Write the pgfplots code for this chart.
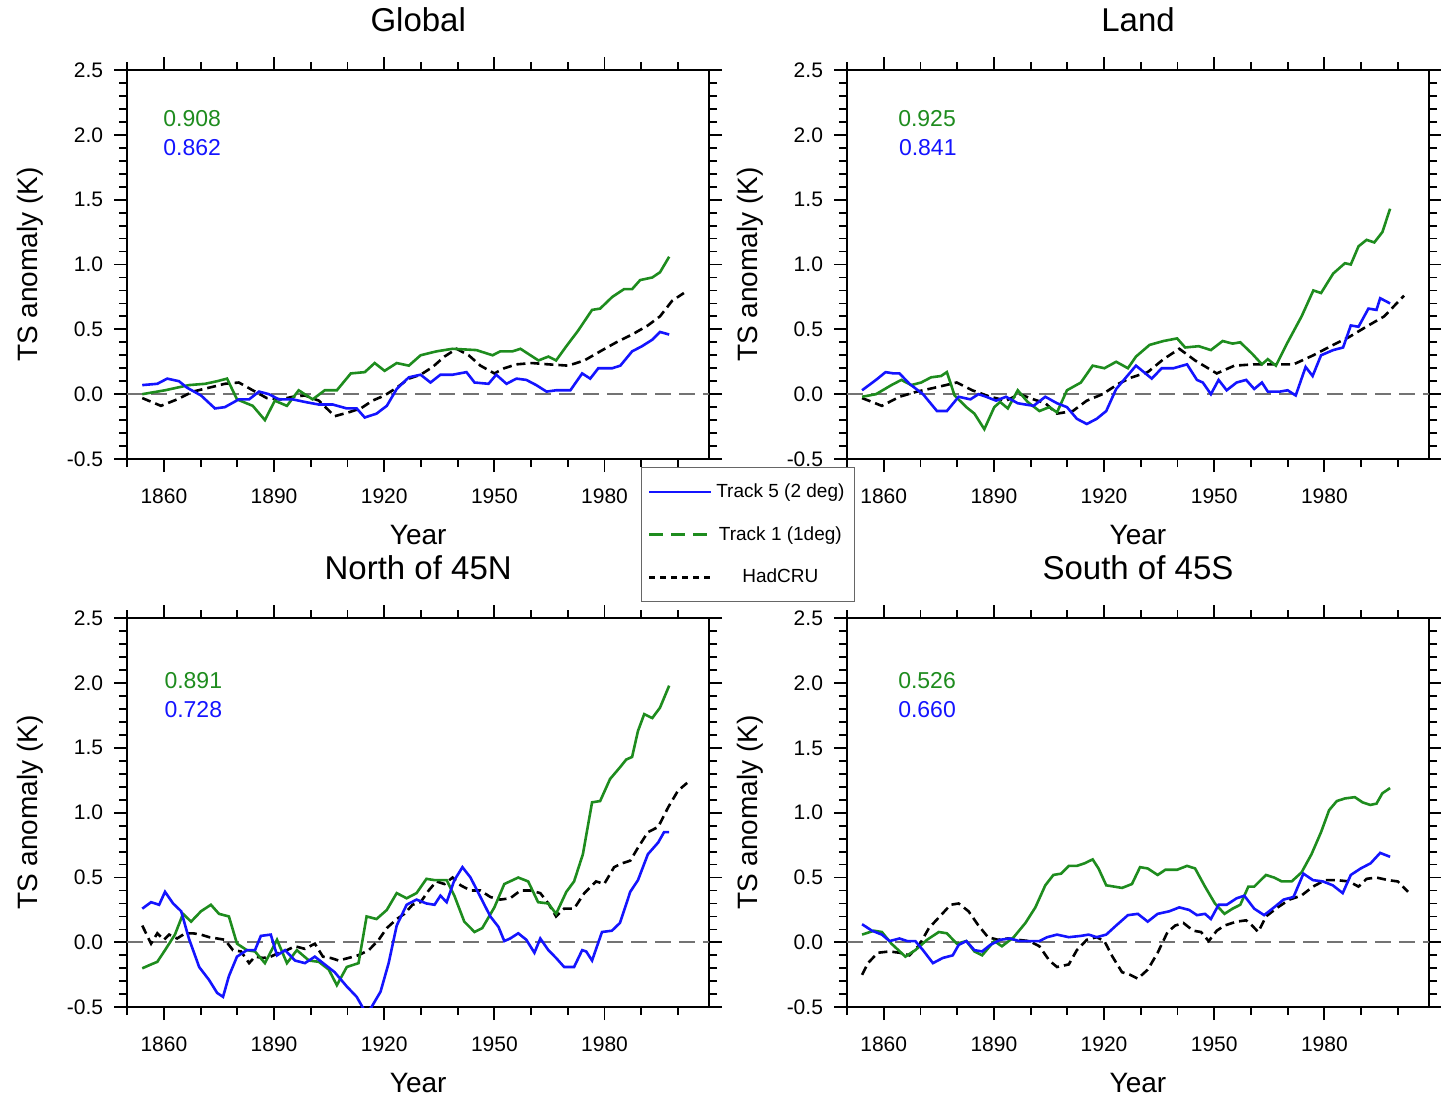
\documentclass[border=0pt]{standalone}
\usepackage{fontspec}
\setmainfont{Liberation Sans}
\usepackage{pgfplots}
\pgfplotsset{compat=1.18}
\definecolor{tgreen}{RGB}{30,140,30}
\definecolor{tblue}{RGB}{20,20,255}

\tikzset{corr/.style={font=\fontsize{11.5}{13}\selectfont},
         ptitle/.style={font=\fontsize{16.5}{19}\selectfont, anchor=center}}
\pgfplotsset{
  panel/.style={
    scale only axis, width=291pt, height=194.5pt,
    xmin=1850, xmax=2008.5, ymin=-0.5, ymax=2.5,
    xtick={1860,1890,...,1980}, minor xtick={1850,1860,...,2000},
    ytick={-0.5,0,...,2.5}, minor ytick={-0.4,-0.3,...,2.45},
    tick align=outside, xticklabel pos=lower, yticklabel pos=left,
    major tick length=6.5pt, minor tick length=4pt,
    every tick/.style={black, line width=0.9pt},
    axis line style={line width=1.1pt},
    /pgf/number format/assume math mode=true,
    xticklabel style={yshift=-5pt, /pgf/number format/1000 sep={}},
    yticklabel style={xshift=-2pt, /pgf/number format/.cd, fixed, fixed zerofill, precision=1},
    every tick label/.append style={font=\fontsize{10.5}{12}\selectfont},
    label style={font=\fontsize{14}{16}\selectfont},
    xlabel={Year}, ylabel={TS anomaly (K)},
    xlabel style={at={(axis description cs:0.5,-0.1954)}, anchor=center},
    ylabel style={at={(axis description cs:-0.1667,0.5)}, anchor=center},
  },
  track5/.style={tblue, line width=1.3pt, forget plot},
  track1/.style={tgreen, line width=1.3pt, forget plot},
  hadcru/.style={black, line width=1.3pt, dash pattern=on 4.5pt off 2.5pt, forget plot},
  zeroline/.style={black!55, line width=0.9pt, dash pattern=on 8pt off 4pt, forget plot},
}

\begin{document}
\begin{tikzpicture}
\path[use as bounding box] (0,0) rectangle (720.5pt,-549pt);

% panel titles
\node[ptitle] at (209.1pt,-10pt) {Global};
\node[ptitle] at (569pt,-10pt) {Land};
\node[ptitle] at (209.1pt,-284pt) {North of 45N};
\node[ptitle] at (569pt,-284pt) {South of 45S};

% ---------------- Global ----------------
\begin{axis}[panel, at={(63.6pt,-229.5pt)}, anchor=south west]
\addplot[zeroline] coordinates {(1850,0) (2008.5,0)};
\addplot[hadcru] coordinates {
(1854.1,-0.03) (1859.2,-0.09) (1863.6,-0.04) (1867.9,0.02) (1872.3,0.05) (1876.6,0.08)
(1880.4,0.09) (1884.2,0.03) (1888.0,-0.03) (1891.8,-0.04) (1895.1,-0.02) (1898.4,-0.01)
(1902.2,-0.05) (1906.5,-0.17) (1910.3,-0.14) (1913.6,-0.11) (1916.8,-0.05) (1920.1,-0.01)
(1923.4,0.05) (1926.7,0.12) (1929.9,0.15) (1933.2,0.21) (1936.4,0.29) (1939.7,0.35)
(1943.0,0.30) (1946.2,0.22) (1950.0,0.16) (1952.7,0.20) (1956.0,0.23) (1960.3,0.24)
(1964.7,0.23) (1970.1,0.22) (1974.5,0.26) (1978.8,0.33) (1983.2,0.40) (1987.5,0.46)
(1991.8,0.53) (1995.1,0.60) (1998.4,0.72) (2001.6,0.78)};
\addplot[track1] coordinates {
(1854.1,0.00) (1860.3,0.03) (1866.8,0.07) (1871.2,0.08) (1874.5,0.10) (1877.2,0.12)
(1879.9,-0.04) (1884.2,-0.09) (1887.5,-0.20) (1890.2,-0.05) (1893.5,-0.09) (1896.7,0.03)
(1900.5,-0.04) (1903.8,0.03) (1907.1,0.03) (1910.9,0.16) (1914.7,0.17) (1917.4,0.24)
(1920.1,0.18) (1923.4,0.24) (1926.7,0.22) (1929.9,0.30) (1934.2,0.33) (1938.6,0.35)
(1945.1,0.34) (1949.5,0.30) (1951.6,0.33) (1954.9,0.33) (1957.1,0.35) (1962.0,0.26)
(1964.7,0.29) (1966.8,0.26) (1969.6,0.37) (1972.8,0.49) (1976.6,0.65) (1978.8,0.66)
(1982.1,0.75) (1985.3,0.81) (1987.5,0.81) (1989.7,0.88) (1993.0,0.90) (1995.1,0.94)
(1997.6,1.06)};
\addplot[track5] coordinates {
(1854.1,0.07) (1858.2,0.08) (1860.9,0.12) (1864.1,0.10) (1866.3,0.05) (1870.1,-0.01)
(1873.9,-0.11) (1876.6,-0.10) (1880.4,-0.04) (1883.2,-0.04) (1885.9,0.02) (1888.6,0.00)
(1891.3,-0.04) (1895.1,-0.04) (1898.4,-0.06) (1902.2,-0.08) (1906.0,-0.08) (1909.8,-0.11)
(1912.5,-0.11) (1914.7,-0.18) (1917.9,-0.15) (1920.7,-0.09) (1923.4,0.04) (1926.7,0.13)
(1929.9,0.15) (1932.6,0.09) (1935.3,0.15) (1938.6,0.15) (1942.4,0.17) (1944.6,0.09)
(1948.4,0.08) (1950.5,0.15) (1953.3,0.08) (1956.0,0.12) (1958.7,0.11) (1961.4,0.07)
(1964.2,0.02) (1966.8,0.03) (1970.7,0.03) (1973.9,0.16) (1976.1,0.12) (1978.3,0.20)
(1982.1,0.20) (1984.3,0.22) (1987.5,0.33) (1990.2,0.37) (1993.0,0.42) (1995.1,0.48)
(1997.6,0.46)};
\node[corr, text=tgreen] at (axis cs:1867.7,2.128) {0.908};
\node[corr, text=tblue] at (axis cs:1867.7,1.905) {0.862};
\end{axis}

% ---------------- Land ----------------
\begin{axis}[panel, at={(423.5pt,-229.5pt)}, anchor=south west]
\addplot[zeroline] coordinates {(1850,0) (2008.5,0)};
\addplot[hadcru] coordinates {
(1854.1,-0.03) (1859.5,-0.09) (1864.3,-0.02) (1869.1,0.02) (1873.9,0.05) (1879.9,0.09)
(1884.1,0.03) (1889.0,-0.02) (1893.3,-0.05) (1897.0,0.00) (1900.8,-0.04) (1904.0,-0.07)
(1907.2,-0.15) (1911.5,-0.13) (1915.3,-0.05) (1919.6,0.00) (1923.9,0.08) (1927.6,0.13)
(1931.9,0.17) (1936.2,0.27) (1940.5,0.35) (1944.8,0.26) (1950.7,0.16) (1955.5,0.22)
(1960.9,0.23) (1966.2,0.23) (1971.6,0.23) (1977.0,0.30) (1982.4,0.38) (1986.7,0.44)
(1992.0,0.53) (1996.3,0.60) (2001.7,0.76)};
\addplot[track1] coordinates {
(1854.1,-0.02) (1857.9,0.00) (1862.1,0.07) (1864.8,0.11) (1867.5,0.07) (1870.2,0.09)
(1872.9,0.13) (1875.6,0.14) (1877.2,0.17) (1879.3,-0.01) (1882.5,-0.10) (1884.7,-0.15)
(1887.4,-0.27) (1890.1,-0.10) (1891.7,-0.06) (1893.8,-0.11) (1896.5,0.03) (1899.2,-0.06)
(1902.4,-0.13) (1905.1,-0.10) (1907.2,-0.14) (1909.9,0.03) (1913.7,0.09) (1916.9,0.22)
(1920.1,0.20) (1923.3,0.25) (1926.5,0.20) (1928.7,0.29) (1932.4,0.38) (1936.2,0.41)
(1939.9,0.43) (1942.1,0.36) (1945.8,0.37) (1949.1,0.34) (1952.3,0.41) (1955.0,0.39)
(1957.1,0.40) (1960.4,0.31) (1963.0,0.23) (1964.6,0.27) (1966.8,0.22) (1970.0,0.40)
(1973.8,0.60) (1977.0,0.80) (1979.1,0.78) (1982.4,0.93) (1985.6,1.01) (1987.2,1.00)
(1989.3,1.14) (1991.5,1.19) (1993.6,1.17) (1995.8,1.25) (1997.9,1.43)};
\addplot[track5] coordinates {
(1854.1,0.03) (1857.9,0.11) (1860.5,0.17) (1862.7,0.16) (1864.3,0.16) (1867.0,0.08)
(1870.7,0.00) (1874.5,-0.13) (1877.2,-0.13) (1880.4,-0.02) (1883.6,-0.04) (1885.8,0.00)
(1887.9,-0.02) (1890.6,-0.05) (1893.3,-0.02) (1896.5,-0.07) (1900.8,-0.09) (1904.0,-0.02)
(1907.2,-0.07) (1909.9,-0.10) (1912.6,-0.19) (1915.3,-0.23) (1918.0,-0.19) (1920.6,-0.13)
(1923.3,0.04) (1926.0,0.13) (1928.7,0.22) (1933.0,0.12) (1935.7,0.20) (1938.9,0.20)
(1942.6,0.23) (1945.3,0.11) (1946.9,0.09) (1949.1,0.00) (1951.2,0.11) (1953.4,0.03)
(1956.1,0.09) (1958.7,0.11) (1960.9,0.04) (1963.0,0.09) (1964.6,0.02) (1967.9,0.02)
(1970.0,0.03) (1972.2,-0.01) (1974.9,0.21) (1976.8,0.14) (1979.1,0.30) (1982.4,0.34)
(1985.1,0.36) (1987.2,0.53) (1989.3,0.52) (1992.0,0.66) (1994.2,0.65) (1995.2,0.74)
(1997.9,0.70)};
\node[corr, text=tgreen] at (axis cs:1871.8,2.128) {0.925};
\node[corr, text=tblue] at (axis cs:1872.0,1.905) {0.841};
\end{axis}

% ---------------- North of 45N ----------------
\begin{axis}[panel, at={(63.6pt,-503.6pt)}, anchor=south west]
\addplot[zeroline] coordinates {(1850,0) (2008.5,0)};
\addplot[hadcru] coordinates {
(1854.1,0.13) (1856.5,-0.01) (1858.2,0.07) (1860.0,0.02) (1861.4,0.06) (1863.6,0.03)
(1865.8,0.07) (1867.9,0.07) (1870.1,0.06) (1872.3,0.04) (1874.5,0.03) (1876.6,0.02)
(1878.8,-0.06) (1881.0,-0.07) (1883.2,-0.16) (1884.8,-0.11) (1887.0,-0.12) (1889.1,-0.11)
(1891.3,-0.08) (1893.5,-0.06) (1895.7,-0.03) (1898.4,-0.05) (1901.1,-0.01) (1903.3,-0.11)
(1905.4,-0.12) (1907.6,-0.14) (1910.3,-0.12) (1912.9,-0.10) (1915.8,-0.06) (1918.5,0.02)
(1920.7,0.11) (1923.4,0.18) (1925.5,0.22) (1927.7,0.29) (1929.9,0.31) (1932.1,0.40)
(1934.2,0.47) (1936.4,0.45) (1938.6,0.50) (1940.8,0.44) (1943.5,0.40) (1946.2,0.40)
(1948.9,0.35) (1951.6,0.33) (1954.3,0.34) (1957.1,0.40) (1959.8,0.40) (1962.5,0.38)
(1964.7,0.30) (1966.8,0.20) (1969.0,0.26) (1971.7,0.26) (1974.5,0.38) (1977.7,0.47)
(1979.9,0.45) (1982.6,0.58) (1984.8,0.61) (1987.0,0.63) (1989.1,0.73) (1991.8,0.85)
(1994.6,0.89) (1997.3,1.04) (2000.0,1.17) (2002.5,1.23)};
\addplot[track1] coordinates {
(1854.1,-0.20) (1856.5,-0.17) (1858.2,-0.15) (1860.3,-0.06) (1863.0,0.06) (1865.2,0.22)
(1867.4,0.16) (1870.1,0.24) (1872.8,0.29) (1875.0,0.22) (1877.7,0.20) (1879.9,-0.01)
(1882.6,-0.06) (1884.8,-0.07) (1887.5,-0.16) (1890.8,0.02) (1893.5,-0.16) (1896.2,-0.06)
(1899.5,-0.14) (1902.2,-0.15) (1904.9,-0.21) (1907.1,-0.33) (1909.8,-0.19) (1913.0,-0.16)
(1915.2,0.20) (1917.9,0.18) (1920.7,0.25) (1923.4,0.38) (1926.1,0.34) (1928.8,0.38)
(1931.5,0.49) (1933.7,0.48) (1937.0,0.48) (1939.1,0.36) (1941.8,0.16) (1944.6,0.08)
(1946.7,0.11) (1950.0,0.27) (1952.7,0.45) (1956.5,0.50) (1959.2,0.47) (1961.9,0.31)
(1964.7,0.30) (1966.8,0.22) (1969.6,0.39) (1971.7,0.47) (1974.1,0.68) (1976.6,1.08)
(1978.8,1.09) (1981.5,1.26) (1984.2,1.35) (1985.9,1.41) (1987.5,1.43) (1989.1,1.63)
(1990.8,1.76) (1993.0,1.73) (1995.1,1.81) (1997.6,1.98)};
\addplot[track5] coordinates {
(1854.1,0.26) (1856.5,0.31) (1858.7,0.29) (1860.3,0.39) (1862.5,0.30) (1864.7,0.24)
(1866.8,0.03) (1869.6,-0.19) (1872.3,-0.29) (1874.5,-0.39) (1876.1,-0.42) (1877.7,-0.26)
(1879.9,-0.11) (1882.6,-0.06) (1884.8,-0.06) (1886.4,0.05) (1889.1,0.06) (1890.8,-0.10)
(1893.0,-0.06) (1895.7,-0.14) (1898.4,-0.16) (1901.1,-0.11) (1903.8,-0.17) (1906.5,-0.23)
(1909.8,-0.34) (1912.5,-0.42) (1914.7,-0.53) (1916.3,-0.51) (1919.0,-0.38) (1921.2,-0.16)
(1923.4,0.13) (1926.1,0.29) (1928.8,0.33) (1931.5,0.30) (1933.7,0.29) (1935.3,0.36)
(1937.0,0.31) (1939.1,0.48) (1941.3,0.58) (1943.5,0.50) (1946.2,0.35) (1948.9,0.20)
(1951.1,0.12) (1952.7,0.01) (1954.3,0.03) (1956.5,0.07) (1958.7,0.02) (1960.9,-0.08)
(1962.5,0.03) (1964.7,-0.06) (1966.8,-0.12) (1969.0,-0.19) (1971.7,-0.19) (1973.9,-0.06)
(1975.0,-0.07) (1976.6,-0.14) (1979.3,0.08) (1982.0,0.09) (1984.2,0.15) (1987.0,0.39)
(1989.1,0.48) (1991.8,0.68) (1994.6,0.77) (1996.2,0.85) (1997.6,0.85)};
\node[corr, text=tgreen] at (axis cs:1868.0,2.02) {0.891};
\node[corr, text=tblue] at (axis cs:1868.0,1.797) {0.728};
\end{axis}

% ---------------- South of 45S ----------------
\begin{axis}[panel, at={(423.5pt,-503.6pt)}, anchor=south west,
  legend style={at={(-0.170,1.2147)}, anchor=center, draw=black!60, line width=0.6pt,
    fill=white, font=\fontsize{9.5}{11}\selectfont, row sep=9pt,
    inner xsep=3pt, inner ysep=6pt},
  legend cell align=center,
  legend image code/.code={\draw[#1] (0pt,0pt) -- (31pt,0pt);}]
\addplot[zeroline] coordinates {(1850,0) (2008.5,0)};
\addplot[hadcru] coordinates {
(1854.1,-0.25) (1855.7,-0.16) (1858.4,-0.08) (1861.6,-0.07) (1864.3,-0.08) (1867.0,-0.10)
(1869.7,-0.02) (1872.3,0.11) (1875.6,0.21) (1878.2,0.29) (1880.4,0.30) (1883.1,0.24)
(1885.8,0.13) (1888.4,0.04) (1891.1,0.02) (1893.8,0.03) (1896.5,0.02) (1899.7,0.01)
(1902.4,-0.03) (1905.1,-0.14) (1907.2,-0.19) (1910.4,-0.17) (1912.6,-0.06) (1915.3,0.02)
(1918.0,0.04) (1920.1,0.01) (1922.3,-0.11) (1924.9,-0.23) (1927.1,-0.25) (1929.2,-0.28)
(1931.9,-0.21) (1934.6,-0.08) (1937.3,0.08) (1939.4,0.13) (1941.6,0.15) (1944.3,0.09)
(1946.4,0.08) (1948.5,0.01) (1950.7,0.09) (1952.8,0.13) (1956.1,0.16) (1958.7,0.17)
(1960.3,0.13) (1962.0,0.08) (1964.1,0.20) (1967.3,0.27) (1970.5,0.33) (1973.7,0.36)
(1976.9,0.43) (1980.2,0.48) (1983.4,0.48) (1986.7,0.47) (1989.3,0.43) (1991.5,0.49)
(1994.2,0.50) (1997.4,0.48) (2000.0,0.47) (2002.8,0.39)};
\addplot[track1] coordinates {
(1854.1,0.06) (1857.3,0.09) (1859.5,0.08) (1862.1,-0.01) (1865.9,-0.11) (1868.6,-0.06)
(1871.8,0.02) (1875.0,0.08) (1877.2,0.07) (1879.9,-0.01) (1882.5,0.01) (1884.7,-0.07)
(1886.8,-0.10) (1890.1,0.01) (1892.2,-0.03) (1895.4,0.04) (1898.6,0.15) (1901.3,0.27)
(1904.0,0.44) (1906.2,0.52) (1908.3,0.53) (1910.4,0.59) (1912.6,0.59) (1914.7,0.61)
(1916.9,0.64) (1918.5,0.57) (1920.6,0.44) (1922.8,0.43) (1924.9,0.42) (1927.6,0.45)
(1929.8,0.58) (1931.9,0.57) (1934.6,0.52) (1936.7,0.56) (1939.9,0.56) (1942.6,0.59)
(1944.8,0.57) (1947.5,0.43) (1950.2,0.30) (1952.8,0.22) (1955.0,0.26) (1957.1,0.29)
(1959.3,0.43) (1960.9,0.43) (1964.1,0.52) (1966.3,0.50) (1968.4,0.47) (1971.1,0.47)
(1973.8,0.54) (1976.5,0.68) (1979.1,0.85) (1981.3,1.02) (1983.4,1.09) (1985.6,1.11)
(1988.3,1.12) (1990.4,1.08) (1992.5,1.06) (1994.2,1.07) (1995.8,1.15) (1997.9,1.19)};
\addplot[track5] coordinates {
(1854.1,0.14) (1856.8,0.09) (1859.5,0.06) (1861.6,0.01) (1864.3,0.03) (1866.4,0.01)
(1868.6,0.01) (1870.7,-0.06) (1873.4,-0.16) (1876.1,-0.12) (1878.8,-0.10) (1880.4,-0.02)
(1882.5,0.01) (1884.7,-0.06) (1886.8,-0.07) (1889.0,-0.02) (1891.7,0.02) (1894.3,0.03)
(1897.0,0.01) (1899.7,0.01) (1902.4,0.01) (1904.5,0.04) (1907.2,0.06) (1910.4,0.04)
(1913.7,0.05) (1915.8,0.06) (1918.0,0.04) (1920.6,0.06) (1923.3,0.13) (1926.5,0.21)
(1929.2,0.22) (1931.9,0.16) (1934.6,0.22) (1937.8,0.24) (1940.5,0.27) (1943.2,0.25)
(1945.3,0.21) (1947.5,0.22) (1949.1,0.18) (1951.2,0.29) (1953.4,0.29) (1956.1,0.34)
(1958.2,0.36) (1960.9,0.26) (1963.6,0.21) (1966.3,0.27) (1968.9,0.33) (1971.6,0.35)
(1974.3,0.53) (1976.9,0.48) (1979.6,0.47) (1982.3,0.44) (1985.0,0.38) (1987.2,0.52)
(1989.9,0.57) (1992.6,0.61) (1995.2,0.69) (1997.9,0.66)};
\node[corr, text=tgreen] at (axis cs:1871.8,2.02) {0.526};
\node[corr, text=tblue] at (axis cs:1871.8,1.797) {0.660};
\addlegendimage{tblue, line width=1.3pt}
\addlegendentry{Track 5 (2 deg)}
\addlegendimage{tgreen, line width=1.3pt, dash pattern=on 7pt off 4pt}
\addlegendentry{Track 1 (1deg)}
\addlegendimage{black, line width=1.3pt, dash pattern=on 3pt off 2.5pt}
\addlegendentry{HadCRU}
\end{axis}
\end{tikzpicture}
\end{document}
